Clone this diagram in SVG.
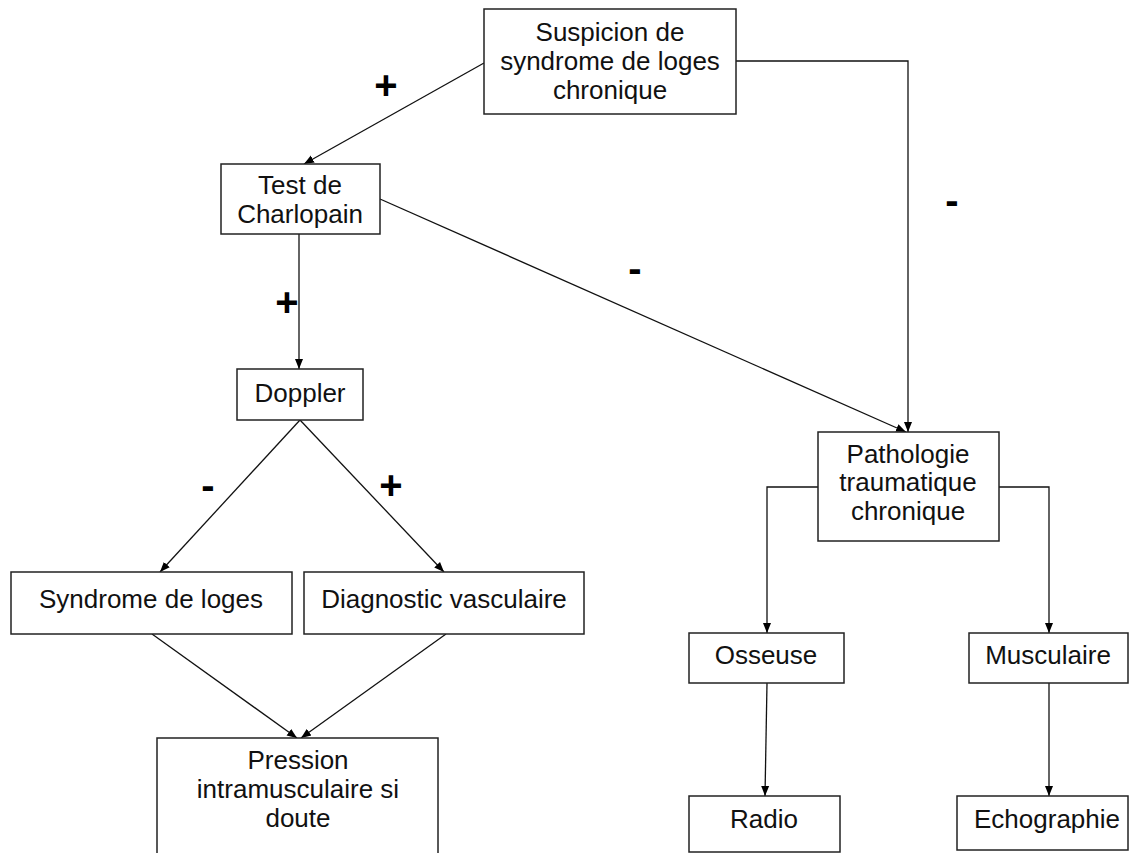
<svg xmlns="http://www.w3.org/2000/svg" width="1134" height="853" viewBox="0 0 1134 853">
<defs>
<style>
.box{fill:#fff;stroke:#222;stroke-width:1.5}
.t{font-family:"Liberation Sans",Arial,sans-serif;font-size:26px;fill:#111;text-anchor:middle}
.c{fill:none;stroke:#111;stroke-width:1.3}
.lbl{font-family:"Liberation Sans",Arial,sans-serif;font-weight:bold;font-size:40px;fill:#000;text-anchor:middle}
</style>
<marker id="ah" markerUnits="userSpaceOnUse" markerWidth="10" markerHeight="10" viewBox="0 0 10 10" refX="10" refY="5" orient="auto">
<path d="M0,1 L10,5 L0,9 z" fill="#000"/>
</marker>
</defs>
<rect width="1134" height="853" fill="#fff"/>
<g id="connectors">
<path class="c" d="M484,63 L304,164" marker-end="url(#ah)"/>
<path class="c" d="M736,61 L908,61 L908,432" marker-end="url(#ah)"/>
<path class="c" d="M380,199 L906,432" marker-end="url(#ah)"/>
<path class="c" d="M299,234 L299,369" marker-end="url(#ah)"/>
<path class="c" d="M300,420 L160,572" marker-end="url(#ah)"/>
<path class="c" d="M300,420 L444,572" marker-end="url(#ah)"/>
<path class="c" d="M152,634 L297,738" marker-end="url(#ah)"/>
<path class="c" d="M446,634 L301,738" marker-end="url(#ah)"/>
<path class="c" d="M818,487 L767,487 L767,633" marker-end="url(#ah)"/>
<path class="c" d="M999,487 L1049,487 L1049,633" marker-end="url(#ah)"/>
<path class="c" d="M767,683 L765,796" marker-end="url(#ah)"/>
<path class="c" d="M1049,683 L1049,796" marker-end="url(#ah)"/>
</g>
<g id="labels">
<text class="lbl" x="386" y="99">+</text>
<text class="lbl" x="952" y="214">-</text>
<text class="lbl" x="635" y="282">-</text>
<text class="lbl" x="287" y="316">+</text>
<text class="lbl" x="208" y="499">-</text>
<text class="lbl" x="391" y="499">+</text>
</g>
<g id="suspicion">
<rect class="box" x="484" y="9" width="252" height="105"/>
<text class="t" x="610" y="41">Suspicion de</text>
<text class="t" x="610" y="70">syndrome de loges</text>
<text class="t" x="610" y="99">chronique</text>
</g>
<g id="charlopain">
<rect class="box" x="221" y="164" width="159" height="70"/>
<text class="t" x="300" y="194">Test de</text>
<text class="t" x="300" y="223">Charlopain</text>
</g>
<g id="doppler">
<rect class="box" x="237" y="369" width="126" height="51"/>
<text class="t" x="300" y="402">Doppler</text>
</g>
<g id="syndrome">
<rect class="box" x="11" y="572" width="281" height="62"/>
<text class="t" x="151" y="608">Syndrome de loges</text>
</g>
<g id="diagnostic">
<rect class="box" x="304" y="572" width="280" height="62"/>
<text class="t" x="444" y="608">Diagnostic vasculaire</text>
</g>
<g id="pression">
<rect class="box" x="157" y="738" width="281" height="125"/>
<text class="t" x="298" y="769">Pression</text>
<text class="t" x="298" y="798">intramusculaire si</text>
<text class="t" x="298" y="827">doute</text>
</g>
<g id="pathologie">
<rect class="box" x="818" y="432" width="181" height="109"/>
<text class="t" x="908" y="463">Pathologie</text>
<text class="t" x="908" y="491">traumatique</text>
<text class="t" x="908" y="520">chronique</text>
</g>
<g id="osseuse">
<rect class="box" x="689" y="633" width="155" height="50"/>
<text class="t" x="766" y="664">Osseuse</text>
</g>
<g id="musculaire">
<rect class="box" x="969" y="633" width="159" height="50"/>
<text class="t" x="1048" y="664">Musculaire</text>
</g>
<g id="radio">
<rect class="box" x="689" y="796" width="151" height="56"/>
<text class="t" x="764" y="828">Radio</text>
</g>
<g id="echographie">
<rect class="box" x="957" y="796" width="171" height="54"/>
<text class="t" x="1047" y="828">Echographie</text>
</g>
</svg>
